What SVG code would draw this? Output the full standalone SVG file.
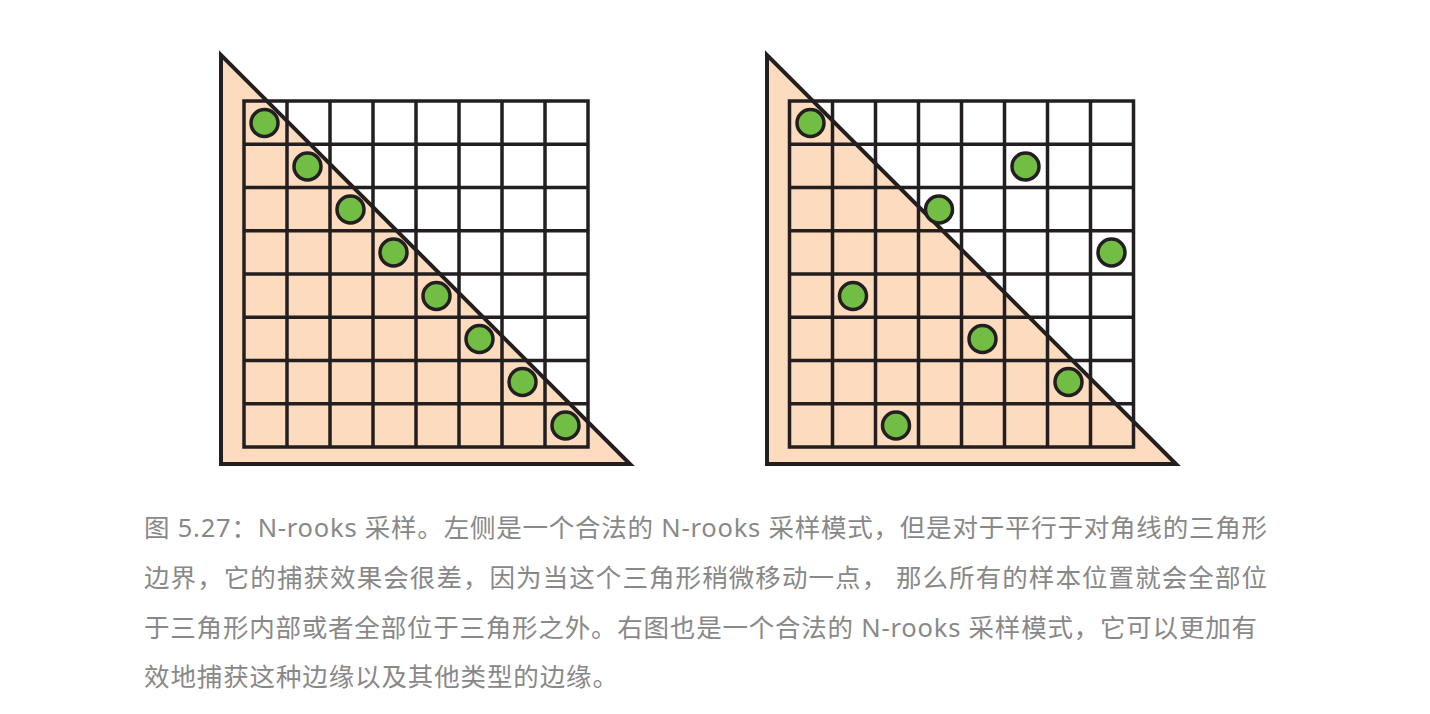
<svg xmlns="http://www.w3.org/2000/svg" width="1430" height="714" viewBox="0 0 1430 714">
<style>
.tri{fill:#FDDBBE;stroke:none}
.edge{fill:none;stroke:#231F20;stroke-width:4;stroke-linejoin:miter;stroke-miterlimit:10}
.grid{fill:none;stroke:#231F20;stroke-width:3.5}
.dot{fill:#72BE44;stroke:#231F20;stroke-width:3.5}
.cap{font-family:"Noto Sans","Noto Sans CJK SC",sans-serif;font-size:25.5px;fill:#888888}
</style>
<defs>
<g id="gridL">
<rect x="244" y="101" width="344" height="346"/>
<path d="M287 101V447M330 101V447M373 101V447M416 101V447M459 101V447M502 101V447M545 101V447M244 144.25H588M244 187.5H588M244 230.75H588M244 274H588M244 317.25H588M244 360.5H588M244 403.75H588"/>
</g>
</defs>
<rect width="1430" height="714" fill="#ffffff"/>
<g id="left-figure">
<polygon class="tri" points="221,55 221,464 630,464"/>
<use href="#gridL" class="grid"/>
<polygon class="edge" points="221,55 221,464 630,464"/>
<g id="left-samples">
<circle class="dot" cx="264.5" cy="123" r="13.5"/>
<circle class="dot" cx="307.5" cy="166.5" r="13.5"/>
<circle class="dot" cx="350.5" cy="209.5" r="13.5"/>
<circle class="dot" cx="393.5" cy="252.5" r="13.5"/>
<circle class="dot" cx="436.5" cy="296" r="13.5"/>
<circle class="dot" cx="479.5" cy="339" r="13.5"/>
<circle class="dot" cx="522.5" cy="382" r="13.5"/>
<circle class="dot" cx="565.5" cy="425.5" r="13.5"/>
</g>
</g>
<g id="right-figure">
<polygon class="tri" points="767,55 767,464 1176,464"/>
<use href="#gridL" class="grid" transform="translate(545.5,0)"/>
<polygon class="edge" points="767,55 767,464 1176,464"/>
<g id="right-samples">
<circle class="dot" cx="810.5" cy="123" r="13.5"/>
<circle class="dot" cx="1025.5" cy="166.5" r="13.5"/>
<circle class="dot" cx="939" cy="209.5" r="13.5"/>
<circle class="dot" cx="1111.5" cy="252.5" r="13.5"/>
<circle class="dot" cx="853" cy="296" r="13.5"/>
<circle class="dot" cx="982.5" cy="339" r="13.5"/>
<circle class="dot" cx="1068.5" cy="382" r="13.5"/>
<circle class="dot" cx="896" cy="425.5" r="13.5"/>
</g>
</g>
<g id="caption">
<text class="cap" x="144" y="537" textLength="1123" lengthAdjust="spacing">图 5.27：N-rooks 采样。左侧是一个合法的 N-rooks 采样模式，但是对于平行于对角线的三角形</text>
<text class="cap" x="144" y="587" textLength="1123" lengthAdjust="spacing">边界，它的捕获效果会很差，因为当这个三角形稍微移动一点， 那么所有的样本位置就会全部位</text>
<text class="cap" x="144" y="636.5" textLength="1113" lengthAdjust="spacing">于三角形内部或者全部位于三角形之外。右图也是一个合法的 N-rooks 采样模式，它可以更加有</text>
<text class="cap" x="144" y="686" textLength="474" lengthAdjust="spacing">效地捕获这种边缘以及其他类型的边缘。</text>
</g>
</svg>
